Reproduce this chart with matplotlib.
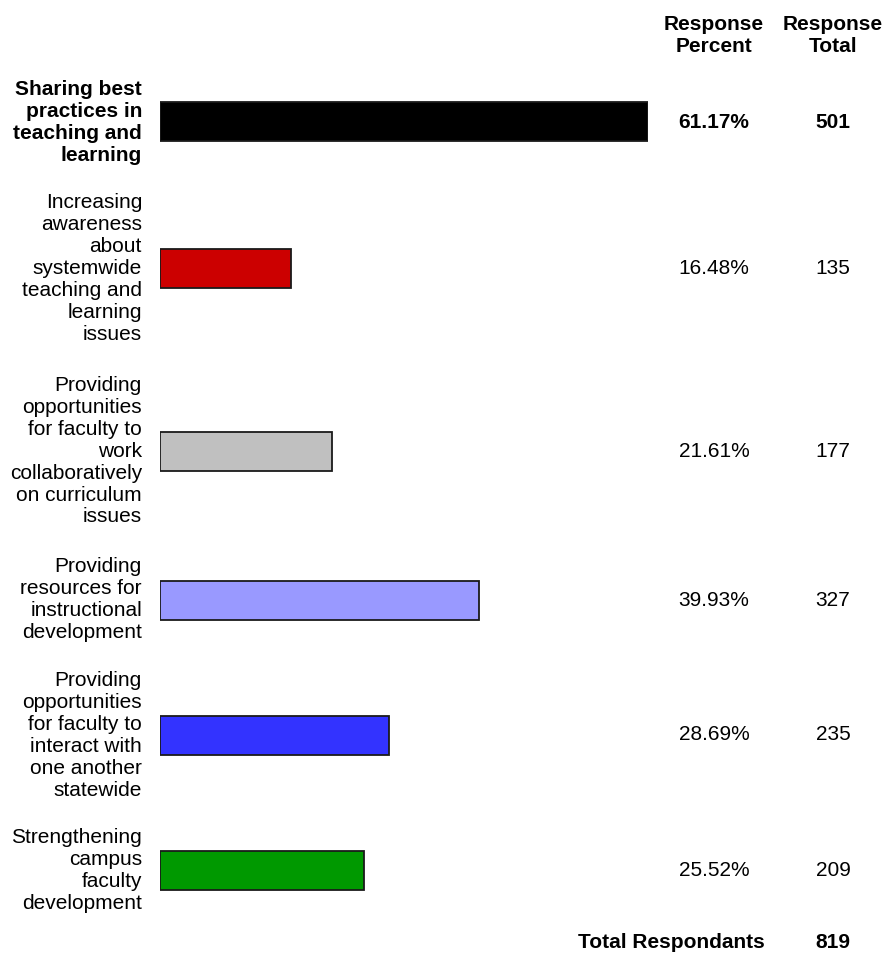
import matplotlib
matplotlib.use('Agg')
import matplotlib.pyplot as plt

plt.rcParams['font.family'] = ['Liberation Sans', 'DejaVu Sans']

# data
labels = [
    'Sharing best\npractices in\nteaching and\nlearning',
    'Increasing\nawareness\nabout\nsystemwide\nteaching and\nlearning\nissues',
    'Providing\nopportunities\nfor faculty to\nwork\ncollaboratively\non curriculum\nissues',
    'Providing\nresources for\ninstructional\ndevelopment',
    'Providing\nopportunities\nfor faculty to\ninteract with\none another\nstatewide',
    'Strengthening\ncampus\nfaculty\ndevelopment',
]
percent = [61.17, 16.48, 21.61, 39.93, 28.69, 25.52]
totals = [501, 135, 177, 327, 235, 209]
total_respondants = 819
colors = ['#000000', '#cc0000', '#c0c0c0', '#9999ff', '#3333ff', '#009900']

# layout (pixel rows, top-down)
W, H = 889, 955
row_y = [122, 268, 451, 600, 735, 870]
bar_h = 39
x0, x1 = 160, 648
pct_x, tot_x = 714, 833
fs = 15

fig = plt.figure(figsize=(W / 100, H / 100), dpi=100)
ax = fig.add_axes([x0 / W, 0, (x1 - x0) / W, 1])
ax.barh(row_y, percent, height=bar_h, color=colors, edgecolor='#1a1a1a', linewidth=1.3)
ax.set_xlim(0, max(percent))
ax.set_ylim(H, 0)
ax.axis('off')

def ftext(x, y, s, **kw):
    fig.text(x / W, 1 - y / H, s, fontsize=fs, linespacing=1.2, va='center', **kw)

ftext(pct_x, 36, 'Response\nPercent', ha='center', weight='bold')
ftext(tot_x, 36, 'Response\nTotal', ha='center', weight='bold')

for i, (lab, p, t) in enumerate(zip(labels, percent, totals)):
    w = 'bold' if i == 0 else 'normal'
    ftext(142, row_y[i], lab, ha='right', weight=w)
    ftext(pct_x, row_y[i], f'{p:.2f}%', ha='center', weight=w)
    ftext(tot_x, row_y[i], str(t), ha='center', weight=w)

ftext(671, 942, 'Total Respondants', ha='center', weight='bold')
ftext(tot_x, 942, str(total_respondants), ha='center', weight='bold')

fig.savefig('out.png', dpi=100)
